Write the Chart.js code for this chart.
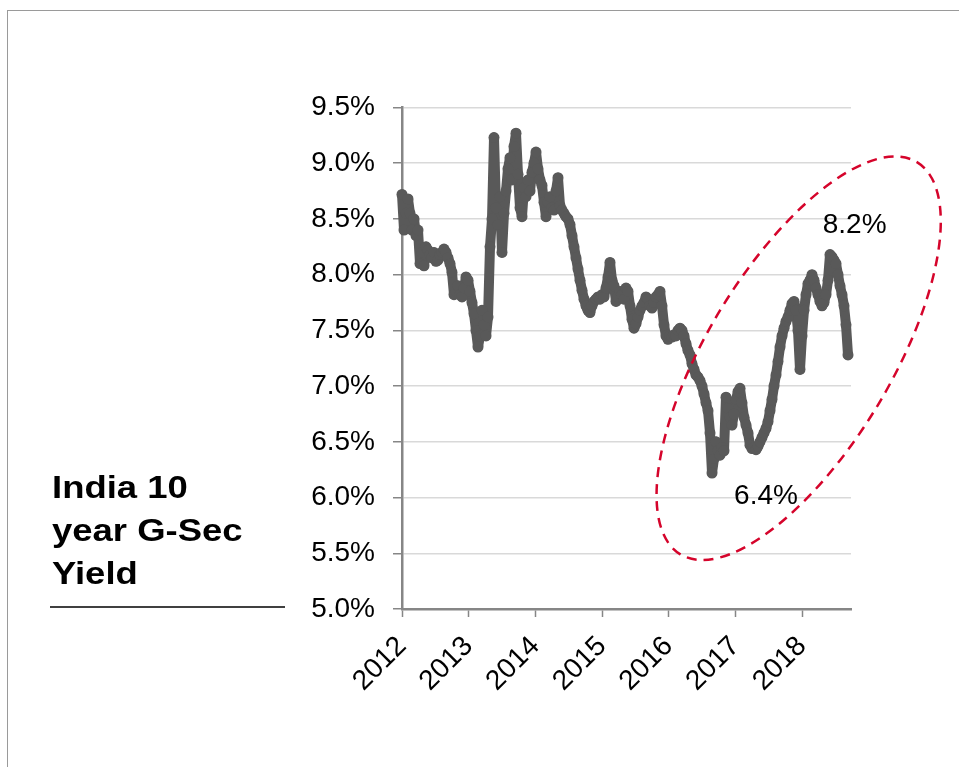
<!DOCTYPE html>
<html>
<head>
<meta charset="utf-8">
<script src="https://cdn.jsdelivr.net/npm/chart.js@4.4.1/dist/chart.umd.min.js"></script>
<style>
  html, body { margin: 0; padding: 0; background: #fff; }
  #wrap { position: relative; width: 959px; height: 767px; overflow: hidden; background: #fff; }
  #frame { position: absolute; left: 7px; top: 10px; width: 980px; height: 800px;
           border-top: 1.5px solid #9a9a9a; border-left: 1.5px solid #9a9a9a; box-sizing: border-box; }
  #chart { position: absolute; left: 0; top: 0; }
  #title { position: absolute; left: 52px; top: 466px; font-family: "Liberation Sans", Arial, sans-serif;
           font-weight: bold; font-size: 32px; line-height: 43px; color: #000;
           transform: scaleX(1.14); transform-origin: left top; white-space: nowrap; }
  #rule { position: absolute; left: 50px; top: 606px; width: 235px; height: 1.5px; background: #404040; }
</style>
</head>
<body>
<div id="wrap">
  <div id="frame"></div>
  <canvas id="chart" width="959" height="767"></canvas>
  <div id="title">India 10<br>year G-Sec<br>Yield</div>
  <div id="rule"></div>
</div>
<script>
// ---- Data ----
const yearTicks = [2012, 2013, 2014, 2015, 2016, 2017, 2018];
const yearLabels = ['2012', '2013', '2014', '2015', '2016', '2017', '2018'];
const yTicks = [5.0, 5.5, 6.0, 6.5, 7.0, 7.5, 8.0, 8.5, 9.0, 9.5];
const yTickLabels = ['5.0%', '5.5%', '6.0%', '6.5%', '7.0%', '7.5%', '8.0%', '8.5%', '9.0%', '9.5%'];
const seriesStart = 2012.0;   // first observation (decimal year)
const sampleStep = 0.03;      // years between observations
const yields = [
  8.72, 8.40, 8.55, 8.68, 8.55, 8.40, 8.50, 8.35, 8.40, 8.10,
  8.20, 8.08, 8.25, 8.22, 8.18, 8.15, 8.20, 8.12, 8.13, 8.18,
  8.20, 8.23, 8.20, 8.15, 8.10, 8.02, 7.82, 7.85, 7.90, 7.82,
  7.80, 7.88, 7.98, 7.95, 7.85, 7.75, 7.65, 7.50, 7.35, 7.45,
  7.68, 7.55, 7.45, 7.62, 8.25, 8.50, 9.23, 8.60, 8.45, 8.70,
  8.20, 8.55, 8.75, 8.95, 9.05, 8.85, 9.15, 9.27, 8.90, 8.60,
  8.52, 8.78, 8.70, 8.85, 8.75, 8.92, 9.00, 9.10, 8.95, 8.85,
  8.80, 8.65, 8.52, 8.65, 8.70, 8.60, 8.58, 8.75, 8.87, 8.62,
  8.58, 8.55, 8.52, 8.50, 8.45, 8.35, 8.25, 8.15, 8.05, 7.95,
  7.86, 7.78, 7.72, 7.68, 7.66, 7.72, 7.76, 7.78, 7.80, 7.78,
  7.82, 7.80, 7.88, 7.98, 8.11, 7.95, 7.90, 7.76, 7.80, 7.85,
  7.82, 7.78, 7.88, 7.85, 7.72, 7.60, 7.52, 7.56, 7.62, 7.68,
  7.72, 7.75, 7.80, 7.78, 7.72, 7.70, 7.75, 7.80, 7.82, 7.85,
  7.72, 7.55, 7.45, 7.42, 7.45, 7.44, 7.46, 7.45, 7.50, 7.52,
  7.50, 7.45, 7.38, 7.32, 7.28, 7.20, 7.15, 7.10, 7.08, 7.05,
  7.00, 6.93, 6.85, 6.78, 6.58, 6.22, 6.35, 6.50, 6.42, 6.38,
  6.45, 6.42, 6.90, 6.80, 6.72, 6.65, 6.75, 6.88, 6.95, 6.98,
  6.85, 6.72, 6.65, 6.58, 6.47, 6.44, 6.45, 6.43, 6.46, 6.50,
  6.54, 6.58, 6.62, 6.68, 6.78, 6.88, 7.00, 7.10, 7.22, 7.35,
  7.45, 7.52, 7.58, 7.62, 7.68, 7.74, 7.76, 7.68, 7.50, 7.15,
  7.45, 7.68, 7.82, 7.92, 7.95, 8.00, 7.95, 7.88, 7.82, 7.76,
  7.72, 7.75, 7.82, 7.95, 8.18, 8.16, 8.13, 8.10, 8.00, 7.90,
  7.82, 7.72, 7.55, 7.28
];
const xMin = 2012.0, xMax = 2018.735, yMin = 5.0, yMax = 9.5;

// Annotation (red dashed ellipse + value labels), anchored in data space
const ellipseCenter = { x: 2017.95, y: 7.25 };
const calloutLabels = ['8.2%', '6.4%'];
const calloutX = [2018.79, 2017.46];
const calloutY = [8.44, 6.01];

// ---- Build ----
const points = yields.map((v, i) => ({ x: seriesStart + i * sampleStep, y: v }));
const FONT = '"Liberation Sans", Arial, sans-serif';

const annotationPlugin = {
  id: 'ellipseNote',
  afterDatasetsDraw(chart) {
    const { ctx, scales } = chart;
    const cx = scales.x.getPixelForValue(ellipseCenter.x);
    const cy = scales.y.getPixelForValue(ellipseCenter.y);
    ctx.save();
    ctx.strokeStyle = '#d5042b';
    ctx.lineWidth = 2.5;
    ctx.setLineDash([10, 7]);
    ctx.beginPath();
    ctx.ellipse(cx, cy, 229, 92, -58.9 * Math.PI / 180, 0, Math.PI * 2);
    ctx.stroke();
    ctx.setLineDash([]);
    ctx.fillStyle = '#000';
    ctx.font = '28px ' + FONT;
    ctx.textAlign = 'center';
    ctx.textBaseline = 'middle';
    calloutLabels.forEach((t, i) => {
      ctx.fillText(t, scales.x.getPixelForValue(calloutX[i]), scales.y.getPixelForValue(calloutY[i]));
    });
    ctx.restore();
  }
};

new Chart(document.getElementById('chart'), {
  type: 'line',
  data: {
    datasets: [{
      data: points,
      borderColor: '#595959',
      backgroundColor: '#595959',
      borderWidth: 10,
      borderJoinStyle: 'round',
      borderCapStyle: 'round',
      pointRadius: 5.5,
      pointBorderWidth: 0,
      pointBackgroundColor: '#595959',
      tension: 0,
      clip: 10
    }]
  },
  options: {
    responsive: false,
    animation: false,
    devicePixelRatio: 1,
    layout: { padding: { left: 302, top: 107.5, right: 108, bottom: 58 } },
    plugins: { legend: { display: false }, tooltip: { enabled: false } },
    scales: {
      x: {
        type: 'linear',
        min: xMin, max: xMax,
        afterBuildTicks: (axis) => { axis.ticks = yearTicks.map(v => ({ value: v })); },
        afterFit: (axis) => { axis.height = 100; },
        ticks: {
          autoSkip: false, minRotation: 45, maxRotation: 45,
          color: '#000', padding: 13,
          font: { family: FONT, size: 28 },
          callback: (v, i) => yearLabels[i]
        },
        grid: { display: true, drawOnChartArea: false, tickLength: 8, tickColor: '#868686', tickWidth: 1.5 },
        border: { display: true, color: '#868686', width: 2.5 }
      },
      y: {
        type: 'linear',
        min: yMin, max: yMax,
        afterBuildTicks: (axis) => { axis.ticks = yTicks.map(v => ({ value: v })); },
        afterFit: (axis) => { axis.width = 100; },
        ticks: {
          color: '#000', padding: 18,
          font: { family: FONT, size: 28 },
          callback: (v, i) => yTickLabels[i]
        },
        grid: { color: '#d9d9d9', lineWidth: 1.5, tickLength: 9, tickColor: '#868686', tickWidth: 1.5 },
        border: { display: true, color: '#868686', width: 2.5 }
      }
    }
  },
  plugins: [annotationPlugin]
});
</script>
</body>
</html>
